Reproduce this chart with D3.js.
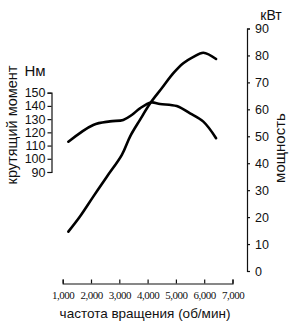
<!DOCTYPE html>
<html>
<head>
<meta charset="utf-8">
<script src="https://cdn.jsdelivr.net/npm/d3@7"></script>
<style>
  body { margin: 0; background: #fff; }
  svg { display: block; }
  .ax path, .ax line { stroke: #111; stroke-width: 1.2; }
  .sans { font-family: "Liberation Sans", Arial, sans-serif; fill: #111; }
</style>
</head>
<body>
<div id="chart"></div>
<script>
const width = 293;
const height = 327;

// rpm ticks and labels
const rpmTicks = [1000, 2000, 3000, 4000, 5000, 6000, 7000];
const torqueTicks = [90, 100, 110, 120, 130, 140, 150];
const powerTicks = [0, 10, 20, 30, 40, 50, 60, 70, 80, 90];

// torque curve (Nm)
const torqueRpm = [1200, 2080, 2670, 3140, 3440, 3730, 4120, 4440, 5030, 5500, 5970, 6420];
const torqueVal = [112.9, 125.6, 128.3, 129.4, 133.1, 138.2, 142.6, 141.5, 139.9, 134.4, 128.1, 115.6];

// power curve (kW)
const powerRpm = [1200, 1610, 2080, 2560, 3090, 3380, 3730, 4110, 4500, 4910, 5260, 5620, 5970, 6420];
const powerVal = [14.6, 20.2, 27.6, 35.0, 43.1, 49.9, 56.1, 62.5, 67.8, 73.4, 77.1, 79.5, 81.0, 78.7];

const svg = d3.select("#chart").append("svg")
    .attr("width", width)
    .attr("height", height);

const x = d3.scaleLinear().domain([1000, 7000]).range([62.7, 232.5]);
const yT = d3.scaleLinear().domain([90, 150]).range([172, 92.7]);
const yP = d3.scaleLinear().domain([0, 90]).range([271, 28.5]);

// bottom axis, ticks pointing up
const bx = svg.append("g").attr("class", "ax")
    .attr("transform", "translate(0,283.5)")
    .call(d3.axisBottom(x).tickValues(rpmTicks).tickSize(-4).tickSizeOuter(-4).tickFormat(d3.format(",")));
bx.selectAll("text")
    .attr("y", 8)
    .style("font-family", "'Liberation Serif', 'Times New Roman', serif")
    .style("font-size", "11px")
    .style("letter-spacing", "-0.5px")
    .attr("fill", "#111");

// left axis (torque)
const lx = svg.append("g").attr("class", "ax")
    .attr("transform", "translate(51.5,0)")
    .call(d3.axisLeft(yT).tickValues(torqueTicks).tickSize(4).tickSizeOuter(4).tickPadding(2));
lx.selectAll("text").attr("class", "sans").style("font-size", "12.5px").attr("fill", "#111");

// right axis (power), ticks to the right
const rx = svg.append("g").attr("class", "ax")
    .attr("transform", "translate(247,0)")
    .call(d3.axisRight(yP).tickValues(powerTicks).tickSize(3).tickSizeOuter(3).tickPadding(5));
rx.selectAll("text").attr("class", "sans").style("font-size", "12.5px").attr("fill", "#111");

// curves
const torqueLine = d3.line()
    .x((d, i) => x(torqueRpm[i]))
    .y(d => yT(d))
    .curve(d3.curveCatmullRom);

const powerLine = d3.line()
    .x((d, i) => x(powerRpm[i]))
    .y(d => yP(d))
    .curve(d3.curveCatmullRom);

svg.append("path")
    .attr("d", torqueLine(torqueVal))
    .attr("fill", "none")
    .attr("stroke", "#000")
    .attr("stroke-width", 2.6)
    .attr("stroke-linecap", "round");

svg.append("path")
    .attr("d", powerLine(powerVal))
    .attr("fill", "none")
    .attr("stroke", "#000")
    .attr("stroke-width", 2.6)
    .attr("stroke-linecap", "round");

// labels
svg.append("text").attr("class", "sans")
    .attr("x", 35).attr("y", 76)
    .attr("text-anchor", "middle")
    .style("font-size", "15px")
    .text("Нм");

svg.append("text").attr("class", "sans")
    .attr("x", 271).attr("y", 20)
    .attr("text-anchor", "middle")
    .style("font-size", "14px")
    .text("кВт");

svg.append("text").attr("class", "sans")
    .attr("transform", "translate(17,125) rotate(-90)")
    .attr("text-anchor", "middle")
    .style("font-size", "14.5px")
    .text("крутящий момент");

svg.append("text").attr("class", "sans")
    .attr("transform", "translate(285,148) rotate(-90)")
    .attr("text-anchor", "middle")
    .style("font-size", "15px")
    .text("мощность");

svg.append("text").attr("class", "sans")
    .attr("x", 145).attr("y", 318)
    .attr("text-anchor", "middle")
    .style("font-size", "13.5px")
    .text("частота вращения (об/мин)");
</script>
</body>
</html>
